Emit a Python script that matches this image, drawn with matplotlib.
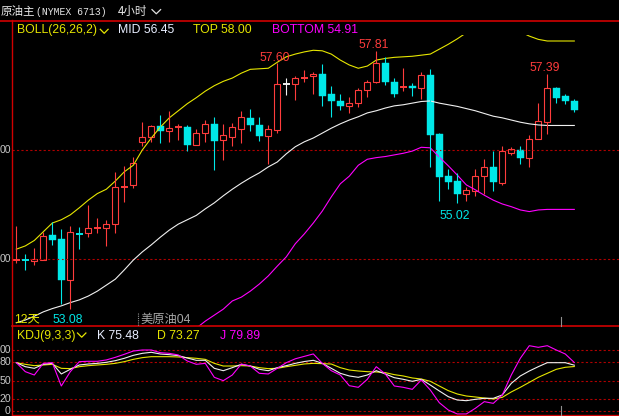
import numpy as np
import matplotlib
matplotlib.use("Agg")
import matplotlib.pyplot as plt
from matplotlib.patches import Rectangle
from matplotlib.lines import Line2D

W, H = 619, 416

# ---------------- data ----------------
opens = [53.99, 53.98, 53.96, 53.99, 54.44, 54.37, 53.62, 54.46, 54.47, 54.57,
         54.57, 54.65, 55.33, 55.35, 56.14, 56.23, 56.44, 56.34, 56.42, 56.43,
         56.10, 56.32, 56.47, 56.19, 56.24, 56.38, 56.59, 56.46, 56.26, 56.37,
         57.22, 57.22, 57.33, 57.35, 57.39, 57.03, 56.90, 56.81, 56.86, 57.10,
         57.24, 57.60, 57.25, 57.16, 57.17, 57.13, 57.38, 56.29, 55.52, 55.44,
         55.19, 55.25, 55.52, 55.68, 55.40, 55.94, 56.00, 55.86, 56.21, 56.52,
         57.13, 56.99, 56.90]
highs = [54.61, 54.10, 54.21, 54.50, 54.67, 54.55, 54.61, 54.58, 54.99, 54.75,
         54.72, 55.59, 55.71, 55.87, 56.51, 56.46, 56.64, 56.72, 56.48, 56.46,
         56.39, 56.55, 56.61, 56.48, 56.49, 56.72, 56.75, 56.61, 56.45, 57.60,
         57.33, 57.35, 57.47, 57.43, 57.57, 57.18, 57.03, 56.97, 57.13, 57.29,
         57.81, 57.71, 57.33, 57.50, 57.23, 57.43, 57.49, 56.31, 55.66, 55.58,
         55.32, 55.65, 55.83, 55.99, 56.07, 56.06, 56.07, 56.27, 56.86, 57.39,
         57.16, 57.03, 56.94]
lows = [53.93, 53.79, 53.89, 53.98, 54.26, 53.17, 53.08, 54.18, 54.41, 54.48,
        54.23, 54.47, 55.05, 55.30, 56.08, 56.14, 56.13, 56.15, 56.18, 55.99,
        56.10, 56.15, 55.64, 55.82, 56.08, 56.13, 56.35, 56.17, 55.75, 56.32,
        57.01, 56.92, 57.25, 57.03, 56.81, 56.61, 56.73, 56.68, 56.79, 56.97,
        57.23, 57.19, 56.97, 57.09, 56.99, 56.93, 55.68, 55.07, 55.28, 55.02,
        55.07, 55.16, 55.20, 55.25, 55.36, 55.90, 55.75, 55.69, 56.20, 56.29,
        56.87, 56.84, 56.70]
closes = [53.99, 53.98, 54.00, 54.42, 54.35, 53.62, 54.49, 54.46, 54.56, 54.57,
          54.65, 55.32, 55.33, 55.77, 56.23, 56.44, 56.35, 56.40, 56.42, 56.10,
          56.32, 56.47, 56.17, 56.27, 56.42, 56.60, 56.45, 56.26, 56.38, 57.22,
          57.22, 57.32, 57.33, 57.39, 56.99, 56.89, 56.81, 56.86, 57.10, 57.25,
          57.60, 57.25, 57.03, 57.16, 57.13, 57.37, 56.28, 55.51, 55.42, 55.19,
          55.26, 55.52, 55.68, 55.41, 55.98, 56.02, 55.86, 56.20, 56.53, 57.13,
          56.96, 56.89, 56.74]

boll_top = [54.18, 54.24, 54.34, 54.50, 54.66, 54.72, 54.81, 54.94, 55.08, 55.20,
            55.28, 55.43, 55.60, 55.72, 56.00, 56.22, 56.42, 56.59, 56.72, 56.85,
            56.96, 57.08, 57.18, 57.26, 57.32, 57.41, 57.48, 57.49, 57.50, 57.61,
            57.71, 57.76, 57.80, 57.83, 57.82, 57.76, 57.65, 57.56, 57.50, 57.54,
            57.65, 57.68, 57.70, 57.71, 57.72, 57.74, 57.76, 57.85, 57.94, 58.04,
            58.15, 58.24, 58.29, 58.31, 58.29, 58.24, 58.17, 58.09, 58.03, 58.00,
            58.00, 58.00, 58.00]
boll_mid = [52.83, 52.88, 52.95, 53.03, 53.09, 53.14, 53.20, 53.25, 53.32, 53.41,
            53.52, 53.63, 53.80, 53.98, 54.13, 54.26, 54.40, 54.53, 54.64, 54.72,
            54.80, 54.92, 55.03, 55.16, 55.28, 55.39, 55.49, 55.58, 55.69, 55.78,
            55.93, 56.06, 56.15, 56.22, 56.31, 56.40, 56.48, 56.55, 56.61, 56.68,
            56.72, 56.77, 56.81, 56.83, 56.86, 56.89, 56.90, 56.86, 56.83, 56.80,
            56.76, 56.72, 56.67, 56.62, 56.59, 56.55, 56.51, 56.48, 56.46, 56.45,
            56.45, 56.45, 56.45]
boll_bot = [np.nan] * 18 + [
            52.42, 52.59, 52.73, 52.86, 52.97, 53.08, 53.23, 53.30, 53.41, 53.54,
            53.69, 53.87, 54.04, 54.28, 54.46, 54.66, 54.88, 55.14, 55.38, 55.52,
            55.72, 55.83, 55.86, 55.88, 55.91, 55.94, 55.98, 56.05, 56.04, 55.87,
            55.71, 55.54, 55.36, 55.27, 55.17, 55.08, 55.01, 54.96, 54.90, 54.87,
            54.90, 54.91, 54.91, 54.91, 54.91]

kdj_k = [79.6, 73.0, 70.3, 76.9, 78.5, 61.0, 68.7, 75.8, 77.4, 78.5,
         80.2, 82.9, 86.8, 91.7, 95.0, 96.7, 93.9, 92.8, 91.2, 87.3,
         83.5, 83.5, 70.3, 66.4, 71.4, 76.9, 74.1, 68.7, 66.4, 71.4,
         74.7, 78.5, 81.5, 83.5, 78.5, 70.3, 62.1, 57.7, 55.5, 59.3,
         66.4, 61.0, 54.9, 52.2, 48.9, 52.2, 42.8, 33.0, 23.6, 18.1,
         17.0, 19.2, 20.9, 20.9, 26.4, 45.6, 57.7, 65.9, 73.0, 79.6,
         79.6, 79.6, 75.48]
kdj_d = [79.6, 76.9, 74.7, 75.8, 76.9, 70.3, 69.8, 73.0, 74.7, 75.8,
         76.9, 78.5, 81.3, 85.1, 87.9, 89.5, 89.5, 89.5, 89.0, 87.9,
         86.8, 85.1, 78.5, 74.1, 74.1, 74.7, 74.1, 71.4, 69.8, 70.3,
         73.0, 75.2, 77.5, 78.5, 78.0, 77.4, 71.4, 67.5, 65.9, 64.8,
         64.3, 63.2, 59.9, 57.7, 54.4, 52.7, 48.9, 41.2, 33.5, 28.0,
         24.7, 23.1, 21.4, 19.8, 22.5, 31.4, 39.0, 47.2, 55.5, 62.1,
         68.7, 72.0, 73.27]
kdj_j = [79.6, 64.8, 59.3, 78.5, 79.6, 41.2, 64.8, 81.3, 81.9, 81.9,
         84.1, 88.4, 93.4, 98.8, 100.5, 100.5, 96.1, 95.0, 92.3, 82.4,
         76.9, 78.5, 55.5, 50.0, 59.3, 77.4, 74.1, 62.1, 61.0, 70.3,
         79.6, 86.0, 90.0, 94.0, 78.5, 66.4, 59.3, 41.7, 39.0, 52.2,
         73.0, 61.0, 41.2, 39.0, 35.7, 51.1, 34.6, 13.7, 1.6, -4.9,
         -4.9, 4.4, 15.4, 12.6, 26.4, 59.3, 86.8, 107.6, 104.9, 107.6,
         100.5, 93.9, 79.89]

# visible (cut) axis labels, as they appear at the left edge
price_grid = [56.00, 54.00]
price_grid_labels = ["00", "00"]
kdj_grid = [100, 80, 50, 20, 0]
kdj_grid_labels = ["00", "80", "50", "20", "0"]
hi_labels = {29: "57.60", 40: "57.81", 59: "57.39"}
lo_labels = {49: "55.02", 6: "53.08"}

# ---------------- style ----------------
RED = '#ff3c3c'
CYAN = '#00e8e8'
WHITE = '#f0f0f0'
YEL = '#e6e600'
MAG = '#ff00ff'
FRAME = '#d00000'
GRID = '#b00000'
LAB = '#c8c8c8'
SANS = ['Liberation Sans', 'Noto Sans CJK SC']
CJK = ['Noto Sans CJK SC', 'DejaVu Sans']
FS = 8.8

fig = plt.figure(figsize=(W / 100, H / 100), dpi=100, facecolor='black')


def fx(x):
    return x / W


def fy(y):
    return 1 - y / H


X0, DX = 16.3, 9.0
xlim = ((12 - X0) / DX, (W - X0) / DX)

ax = fig.add_axes([fx(12), fy(326), (W - 12) / W, (326 - 35) / H])
ax.set_facecolor('black')
ax.set_xlim(*xlim)
ax.set_ylim(56 - 176 / 54.5, 56 + 115 / 54.5)
ax.axis('off')

axk = fig.add_axes([fx(12), 0, (W - 12) / W, 90 / H])
axk.set_facecolor('black')
axk.set_xlim(*xlim)
axk.set_ylim((411 - 416) / 0.607, (411 - 326) / 0.607)
axk.axis('off')

# grid lines & left labels (right edge just left of the frame line)
for v, t in zip(price_grid, price_grid_labels):
    ax.axhline(v, color=GRID, lw=0.8, ls=(0, (2, 2)))
    ax.text(-0.002, v, t, transform=ax.get_yaxis_transform(), ha='right',
            va='center', color=LAB, fontsize=7.6, family=SANS, clip_on=False)
for v, t in zip(kdj_grid, kdj_grid_labels):
    axk.axhline(v, color=GRID, lw=0.8, ls=(0, (2, 2)))
    axk.text(-0.002, v, t, transform=axk.get_yaxis_transform(), ha='right',
             va='center', color=LAB, fontsize=7.6, family=SANS, clip_on=False)

# Bollinger bands
xs = np.arange(len(closes))
lw1 = 0.8
ax.plot(xs, boll_top, color=YEL, lw=lw1)
ax.plot(xs, boll_mid, color=WHITE, lw=lw1)
ax.plot(xs, boll_bot, color=MAG, lw=lw1)

# candles
bw = 0.78
for i in range(len(closes)):
    o, h, l, c = opens[i], highs[i], lows[i], closes[i]
    if c > o:
        ax.plot([i, i], [l, o], color=RED, lw=0.8, solid_capstyle='butt')
        ax.plot([i, i], [c, h], color=RED, lw=0.8, solid_capstyle='butt')
        ax.add_patch(Rectangle((i - 0.35, o), 0.70, c - o, facecolor='none',
                               edgecolor=RED, lw=0.8))
    elif c < o:
        ax.plot([i, i], [l, h], color=CYAN, lw=0.8, solid_capstyle='butt')
        ax.add_patch(Rectangle((i - bw / 2, c), bw, o - c, facecolor=CYAN,
                               edgecolor=CYAN, lw=0.3))
    else:
        prev = closes[i - 1] if i > 0 else c - 1
        col = RED if c > prev else (CYAN if c < prev else WHITE)
        ax.plot([i, i], [l, h], color=col, lw=0.8, solid_capstyle='butt')
        ax.plot([i - bw / 2, i + bw / 2], [c, c], color=col, lw=1.4,
                solid_capstyle='butt')

# high/low labels
hi_off = {29: (-1.9, 1.5), 40: (-1.8, 2.4), 59: (-1.7, 2.4)}
for i, t in hi_labels.items():
    ax.annotate(t, xy=(i, highs[i]), xytext=hi_off[i], textcoords='offset points',
                ha='center', va='baseline', color=RED, fontsize=FS, family=SANS)
lo_off = {49: (-1.7, -11.2), 6: (-1.5, -10.2)}
for i, t in lo_labels.items():
    ax.annotate(t, xy=(i, lows[i]), xytext=lo_off[i], textcoords='offset points',
                ha='center', va='baseline', color=CYAN, fontsize=FS, family=SANS)

# KDJ lines
axk.plot(xs, kdj_d, color=YEL, lw=lw1)
axk.plot(xs, kdj_k, color=WHITE, lw=lw1)
axk.plot(xs, kdj_j, color=MAG, lw=lw1)


# ---------------- frame lines ----------------
def fline(xa, ya, col, lw, ls='-'):
    fig.add_artist(Line2D([fx(v) for v in xa], [fy(v) for v in ya],
                          transform=fig.transFigure, color=col, lw=lw, ls=ls))


fline([0, W], [20.5, 20.5], FRAME, 1.2)
fline([12.3, 12.3], [20, H], FRAME, 1.0)
fline([12, W], [326, 326], FRAME, 1.2)
fline([12, W], [415.3, 415.3], FRAME, 1.0)
fline([561.3, 561.3], [316.5, 326], '#909090', 0.8)
fline([561.3, 561.3], [406, 415], '#909090', 0.8)
fline([137.7, 137.7], [313, 326], '#909090', 0.8, (0, (1, 1)))

# chevrons
fline([100.3, 104.2, 108.1], [29.3, 33.3, 29.3], YEL, 0.9)
fline([77.5, 81.7, 85.9], [333.0, 337.2, 333.0], YEL, 0.9)
fline([152.0, 156.3, 160.6], [9.6, 13.8, 9.6], '#e0e0e0', 0.9)

# ---------------- header texts ----------------
HDR = '#e6e6e6'
fig.text(fx(0.5), fy(11.8), "原油主", color=HDR, fontsize=8.3, family=CJK, va='center')
fig.text(fx(35.5), fy(11.8), "(NYMEX 6713)", color=HDR, fontsize=7.1,
         family=['Liberation Mono'], va='center')
fig.text(fx(118), fy(11.8), "4小时", color=HDR, fontsize=8.3, family=CJK, va='center')

fig.text(fx(17.3), fy(32.7), "BOLL(26,26,2)", color=YEL, fontsize=FS, family=SANS, va='baseline')
fig.text(fx(118.3), fy(32.7), "MID 56.45", color='#e8eeff', fontsize=FS, family=SANS, va='baseline')
fig.text(fx(193.3), fy(32.7), "TOP 58.00", color=YEL, fontsize=FS, family=SANS, va='baseline')
fig.text(fx(271.5), fy(32.7), "BOTTOM 54.91", color=MAG, fontsize=FS, family=SANS, va='baseline')

fig.text(fx(17.3), fy(338.8), "KDJ(9,3,3)", color=YEL, fontsize=FS, family=SANS, va='baseline')
fig.text(fx(96.7), fy(338.8), "K 75.48", color='#e8eeff', fontsize=FS, family=SANS, va='baseline')
fig.text(fx(157.3), fy(338.8), "D 73.27", color=YEL, fontsize=FS, family=SANS, va='baseline')
fig.text(fx(220.0), fy(338.8), "J 79.89", color=MAG, fontsize=FS, family=SANS, va='baseline')

fig.text(fx(13.8), fy(322.8), "12天", color=YEL, fontsize=FS, family=SANS, va='baseline')
fig.text(fx(140.0), fy(323.3), "美原油04", color='#a8a8a8', fontsize=FS, family=SANS, va='baseline')

fig.savefig('out.png', dpi=100, facecolor='black')
